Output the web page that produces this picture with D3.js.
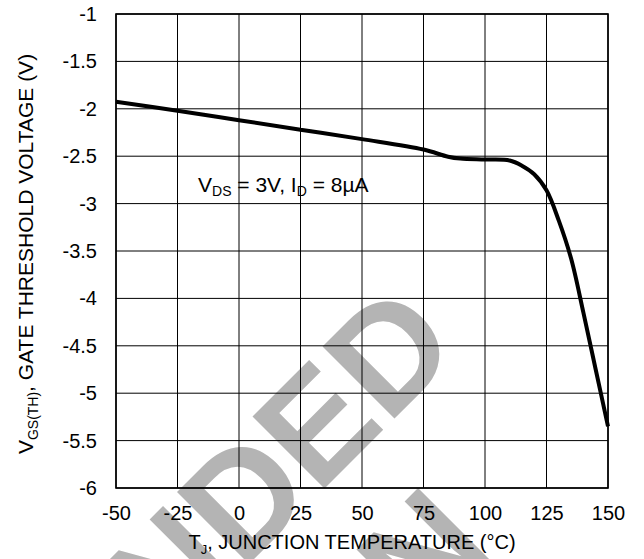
<!DOCTYPE html>
<html>
<head>
<meta charset="utf-8">
<script src="https://cdn.jsdelivr.net/npm/d3@7"></script>
<style>
  html, body { margin: 0; padding: 0; background: #fff; }
  svg { display: block; font-family: "Liberation Sans", Arial, sans-serif; }
</style>
</head>
<body>
<svg id="chart" width="644" height="559"></svg>
<script>
// ---- data ----
const temps = [-50, -25, 0, 25, 50, 75, 85, 90, 100, 110, 115, 120, 125, 130, 135, 140, 145, 150];
const vgs   = [-1.925, -2.02, -2.12, -2.22, -2.32, -2.43, -2.505, -2.525, -2.535, -2.545, -2.6, -2.69, -2.86, -3.18, -3.58, -4.15, -4.75, -5.35];
const xTicks = [-50, -25, 0, 25, 50, 75, 100, 125, 150];
const yTicks = [-1, -1.5, -2, -2.5, -3, -3.5, -4, -4.5, -5, -5.5, -6];
const watermarkLines = ["RECOMMENDED", "FOR NEW DESIGN"];

const svg = d3.select("#chart");
const x = d3.scaleLinear().domain([-50, 150]).range([116, 608]);
const y = d3.scaleLinear().domain([-1, -6]).range([14, 488]);

// watermark (behind everything)
const wm = svg.append("g").attr("fill", "#b4b4b4").attr("font-size", 148).attr("font-weight", "bold");
wm.append("text").attr("transform", "translate(463,350) rotate(-45)")
  .attr("text-anchor", "end").text(watermarkLines[0]);
wm.append("text").attr("transform", "translate(497,553) rotate(-45)")
  .attr("text-anchor", "end").text(watermarkLines[1]);

// grid
const grid = svg.append("g").attr("stroke", "#000").attr("stroke-width", 1);
grid.selectAll(".vg").data(xTicks).join("line")
  .attr("x1", d => x(d)).attr("x2", d => x(d)).attr("y1", y(-1)).attr("y2", y(-6));
grid.selectAll(".hg").data(yTicks).join("line")
  .attr("x1", x(-50)).attr("x2", x(150)).attr("y1", d => y(d)).attr("y2", d => y(d));

// frame
svg.append("rect").attr("x", x(-50)).attr("y", y(-1))
  .attr("width", x(150) - x(-50)).attr("height", y(-6) - y(-1))
  .attr("fill", "none").attr("stroke", "#000").attr("stroke-width", 1.6);

// axes labels via d3 axes
const xAxis = d3.axisBottom(x).tickValues(xTicks).tickSize(0).tickPadding(0).tickFormat(d => String(d));
const gx = svg.append("g").attr("transform", "translate(0,488)").call(xAxis);
gx.select(".domain").remove();
gx.selectAll("text").attr("font-size", 20).attr("fill", "#000")
  .attr("font-family", "Liberation Sans, Arial, sans-serif").attr("y", 0).attr("dy", 32);

const yAxis = d3.axisLeft(y).tickValues(yTicks).tickSize(0).tickPadding(19).tickFormat(d => String(d));
const gy = svg.append("g").attr("transform", "translate(116,0)").call(yAxis);
gy.select(".domain").remove();
gy.selectAll("text").attr("font-size", 20).attr("fill", "#000")
  .attr("font-family", "Liberation Sans, Arial, sans-serif");

// curve
const line = d3.line().x((d, i) => x(temps[i])).y(d => y(d)).curve(d3.curveCatmullRom.alpha(0.5));
svg.append("path").datum(vgs).attr("d", line)
  .attr("fill", "none").attr("stroke", "#000").attr("stroke-width", 4).attr("stroke-linejoin", "round");

// annotation
const ann = svg.append("text").attr("x", 198).attr("y", 192).attr("font-size", 21).attr("fill", "#000");
ann.append("tspan").text("V");
ann.append("tspan").attr("font-size", 14).attr("dy", 4).text("DS");
ann.append("tspan").attr("dy", -4).text(" = 3V, I");
ann.append("tspan").attr("font-size", 14).attr("dy", 4).text("D");
ann.append("tspan").attr("dy", -4).text(" = 8µA");

// x title
const xt = svg.append("text").attr("x", 352).attr("y", 549).attr("text-anchor", "middle")
  .attr("font-size", 20).attr("fill", "#000");
xt.append("tspan").text("T");
xt.append("tspan").attr("font-size", 13).attr("dy", 5).text("J");
xt.append("tspan").attr("dy", -5).text(", JUNCTION TEMPERATURE (°C)");

// y title
const yt = svg.append("text").attr("transform", "translate(33,254) rotate(-90)")
  .attr("text-anchor", "middle").attr("font-size", 21).attr("fill", "#000");
yt.append("tspan").text("V");
yt.append("tspan").attr("font-size", 14).attr("dy", 5).text("GS(TH)");
yt.append("tspan").attr("dy", -5).text(",  GATE THRESHOLD VOLTAGE (V)");
</script>
</body>
</html>
